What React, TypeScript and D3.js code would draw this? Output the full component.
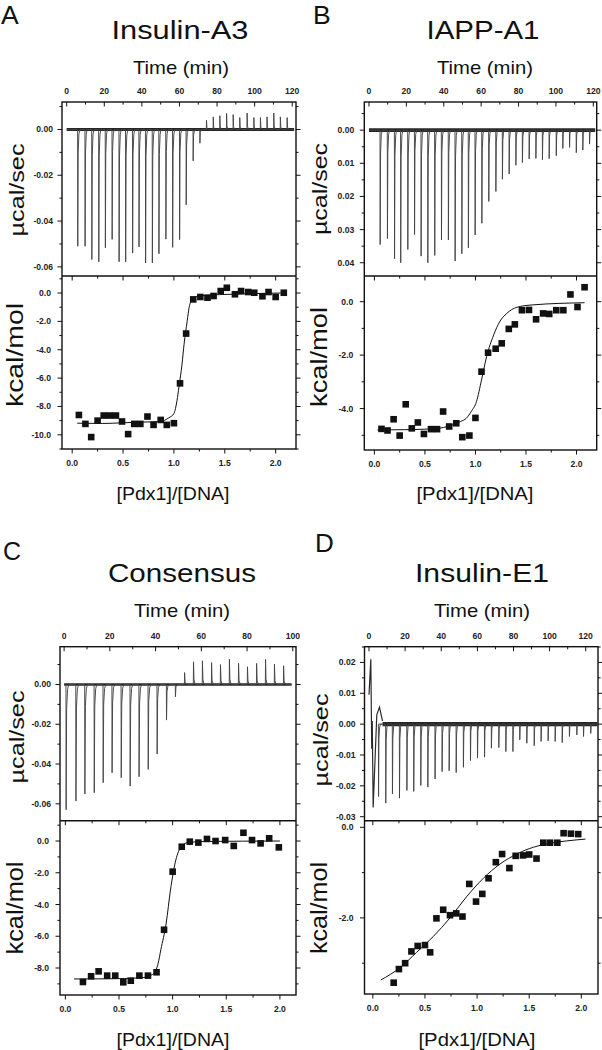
import React from "react";
import * as d3 from "d3";

type Pt = [number, number];

// ---------------- DATA ----------------
// Panel A : Insulin-A3
const injTimeA = [5.8, 9.7, 13.3, 17.0, 20.5, 24.1, 27.8, 31.3, 35.0, 38.4, 41.9, 45.5, 49.0, 52.7, 56.3, 60.0, 63.5, 67.2, 70.8, 74.3, 77.9, 81.4, 85.0, 88.5, 92.0, 95.9, 99.5, 103.0, 106.5, 110.1, 113.6, 117.2];
const injPeakA = [-0.051, -0.051, -0.0568, -0.0578, -0.0517, -0.048, -0.0578, -0.0578, -0.054, -0.0513, -0.0583, -0.0583, -0.0543, -0.0479, -0.0515, -0.0481, -0.0329, -0.0137, -0.006, 0.004, 0.0055, 0.006, 0.007, 0.0065, 0.0052, 0.0072, 0.0052, 0.0052, 0.0055, 0.0072, 0.0055, 0.0052];
const ratioA = [0.066, 0.13, 0.187, 0.25, 0.31, 0.37, 0.43, 0.49, 0.55, 0.61, 0.67, 0.74, 0.8, 0.87, 0.93, 1.0, 1.06, 1.12, 1.19, 1.26, 1.33, 1.39, 1.46, 1.52, 1.6, 1.66, 1.73, 1.79, 1.87, 1.93, 2.0, 2.08];
const heatA = [-8.6, -9.23, -10.16, -9.0, -8.64, -8.64, -8.64, -9.06, -9.95, -9.23, -9.23, -8.71, -9.3, -8.95, -9.3, -9.18, -6.37, -2.86, -0.45, -0.28, -0.33, -0.21, 0.14, 0.37, -0.09, 0.14, 0.07, 0.02, -0.23, 0.07, -0.28, 0.02];
const fitXA = [0.05, 0.3, 0.5, 0.7, 0.87, 0.95, 1.0, 1.03, 1.05, 1.08, 1.1, 1.13, 1.15, 1.18, 1.2, 1.3, 1.6, 2.05];
const fitYA = [-9.18, -9.2, -9.15, -9.1, -9.06, -8.8, -8.5, -7.6, -6.6, -5.0, -3.6, -2.0, -1.0, -0.45, -0.3, -0.17, -0.08, 0.0];

// Panel B : IAPP-A1 (raw signal axis is labelled positive downwards)
const injTimeB = [5.9, 9.8, 13.6, 16.9, 20.7, 24.3, 27.8, 31.4, 35.1, 38.7, 42.4, 46.0, 49.6, 53.1, 56.7, 60.3, 64.0, 67.8, 71.3, 74.9, 78.5, 82.0, 85.6, 89.2, 92.7, 96.3, 100.1, 103.6, 107.2, 110.8, 114.3, 117.9];
const injPeakB = [0.0345, 0.0327, 0.0388, 0.04, 0.036, 0.0315, 0.038, 0.04, 0.0378, 0.0331, 0.0331, 0.0395, 0.0373, 0.0355, 0.0316, 0.0281, 0.0215, 0.0185, 0.0148, 0.0132, 0.0106, 0.0098, 0.0087, 0.0085, 0.0089, 0.0086, 0.0077, 0.0055, 0.0052, 0.0068, 0.006, 0.0042];
const ratioB = [0.07, 0.13, 0.19, 0.25, 0.31, 0.37, 0.43, 0.49, 0.56, 0.62, 0.68, 0.74, 0.81, 0.87, 0.94, 1.0, 1.06, 1.125, 1.2, 1.26, 1.33, 1.39, 1.46, 1.53, 1.6, 1.67, 1.73, 1.8, 1.87, 1.94, 2.01, 2.08];
const heatB = [-4.76, -4.82, -4.4, -5.01, -3.84, -4.74, -4.52, -4.95, -4.77, -4.77, -4.11, -4.67, -4.55, -5.07, -5.01, -4.35, -2.62, -1.91, -1.76, -1.56, -1.02, -0.85, -0.32, -0.31, -0.66, -0.44, -0.46, -0.32, -0.32, 0.27, -0.2, 0.54];
const fitXB = [0.03, 0.3, 0.5, 0.65, 0.78, 0.85, 0.91, 0.96, 1.01, 1.06, 1.11, 1.18, 1.24, 1.31, 1.41, 1.57, 2.08];
const fitYB = [-4.8, -4.79, -4.77, -4.73, -4.6, -4.49, -4.36, -4.1, -3.74, -2.93, -2.06, -1.25, -0.75, -0.44, -0.21, -0.12, -0.04];

// Panel C : Consensus
const injTimeC = [0.8, 5.1, 9.0, 13.1, 17.0, 20.9, 24.9, 28.8, 32.7, 36.7, 40.6, 44.7, 48.6, 52.6, 56.5, 60.4, 64.4, 68.3, 72.2, 76.2, 80.1, 84.1, 88.0, 91.9, 95.9];
const injPeakC = [-0.063, -0.0586, -0.0551, -0.0544, -0.0494, -0.0444, -0.0469, -0.0511, -0.0464, -0.0427, -0.035, -0.0179, -0.0062, 0.006, 0.0114, 0.0119, 0.011, 0.01, 0.0127, 0.0106, 0.0089, 0.0106, 0.0126, 0.0102, 0.0094];
const ratioC = [0.164, 0.24, 0.31, 0.39, 0.465, 0.54, 0.61, 0.69, 0.77, 0.85, 0.92, 1.0, 1.085, 1.16, 1.24, 1.32, 1.4, 1.49, 1.57, 1.66, 1.74, 1.82, 1.9, 1.99];
const heatC = [-8.88, -8.52, -8.21, -8.48, -8.48, -8.9, -8.8, -8.48, -8.48, -8.27, -5.59, -1.93, -0.36, -0.04, -0.1, 0.13, 0.0, 0.06, -0.31, 0.52, 0.06, -0.15, 0.17, -0.4];
const fitXC = [0.08, 0.4, 0.7, 0.8, 0.84, 0.865, 0.89, 0.94, 0.98, 1.03, 1.08, 1.14, 1.3, 2.0];
const fitYC = [-8.69, -8.68, -8.62, -8.45, -8.2, -7.7, -6.85, -5.17, -3.08, -1.19, -0.36, -0.1, -0.03, 0.0];

// Panel D : Insulin-E1
const injTimeD = [5.2, 9.2, 12.9, 16.8, 20.9, 24.7, 28.6, 32.5, 36.5, 40.4, 44.3, 48.2, 52.2, 56.1, 60.0, 63.9, 67.7, 71.8, 75.7, 79.6, 83.4, 87.3, 91.4, 95.2, 99.1, 103.0, 106.9, 110.9, 115.0, 118.7, 122.7];
const injPeakD = [-0.0235, -0.0256, -0.0226, -0.024, -0.0215, -0.0218, -0.0199, -0.0204, -0.0178, -0.0154, -0.0151, -0.0157, -0.014, -0.0118, -0.011, -0.0107, -0.0078, -0.0076, -0.0089, -0.0089, -0.0051, -0.0062, -0.007, -0.0056, -0.0054, -0.0056, -0.006, -0.004, -0.0035, -0.004, -0.003];
const startTimeD = [0, 1.0, 1.5, 1.8, 2.3, 4.3, 5.8, 7.5];
const startSignalD = [0.0095, 0.021, -0.008, 0.001, -0.027, 0.003, 0.0055, 0.001];
const ratioD = [0.2, 0.25, 0.31, 0.37, 0.43, 0.5, 0.55, 0.61, 0.675, 0.74, 0.8, 0.86, 0.925, 0.99, 1.05, 1.11, 1.18, 1.24, 1.31, 1.37, 1.44, 1.5, 1.57, 1.635, 1.7, 1.77, 1.83, 1.9, 1.97];
const heatD = [-3.43, -3.13, -3.0, -2.74, -2.62, -2.6, -2.76, -2.01, -1.82, -1.94, -1.9, -1.97, -1.25, -1.64, -1.47, -1.125, -0.77, -0.59, -0.9, -0.63, -0.62, -0.6, -0.69, -0.34, -0.34, -0.34, -0.13, -0.14, -0.15];
const fitXD = [0.077, 0.26, 0.42, 0.58, 0.74, 0.9, 1.06, 1.22, 1.38, 1.54, 1.7, 1.86, 2.04];
const fitYD = [-3.37, -3.1, -2.76, -2.41, -2.0, -1.53, -1.125, -0.81, -0.59, -0.44, -0.35, -0.3, -0.26];

// ---------------- LAYOUT ----------------
const FONT = "'Liberation Sans', Arial, Helvetica, sans-serif";

interface TextSpec { x: number; y: number; size: number; len?: number }

interface PanelCfg {
  id: string;
  letter: string; letterPos: TextSpec;
  title: string; titlePos: TextSpec;
  timePos: TextSpec;
  ucalPos: TextSpec; kcalPos: TextSpec; ratioPos: TextSpec;
  x0: number; x1: number; y0: number; yMid: number; y1: number;
  tDomain: [number, number];
  sigDomain: [number, number]; // [value at bottom, value at top]
  sigMajor: number; sigMinor: number;
  tMajor: number; tMinor: number;
  rDomain: [number, number];
  hDomain: [number, number];
  hMajor: number; hMinor: number;
  injTime: number[]; injPeak: number[];
  tStart: number; tEnd: number; band: number;
  startT?: number[]; startV?: number[];
  ratio: number[]; heat: number[]; fitX: number[]; fitY: number[];
  sigGap: number;
}

const panels: PanelCfg[] = [
  {
    id: "A", letter: "A", letterPos: { x: 1, y: 24, size: 26.5 },
    title: "Insulin-A3", titlePos: { x: 180, y: 38.5, size: 25.5, len: 137 },
    timePos: { x: 181, y: 74, size: 18.5, len: 96 },
    ucalPos: { x: 24, y: 190, size: 20.5, len: 93 },
    kcalPos: { x: 23, y: 355, size: 24, len: 104 },
    ratioPos: { x: 173, y: 500, size: 18.6, len: 113 },
    x0: 62, x1: 296, y0: 102, yMid: 276, y1: 449,
    tDomain: [-2.5, 122], sigDomain: [-0.064, 0.012], sigMajor: 0.02, sigMinor: 0.01,
    tMajor: 20, tMinor: 10,
    rDomain: [-0.1, 2.2], hDomain: [-11, 1.2], hMajor: 2, hMinor: 1,
    injTime: injTimeA, injPeak: injPeakA, tStart: 0, tEnd: 121, band: 3,
    ratio: ratioA, heat: heatA, fitX: fitXA, fitY: fitYA, sigGap: 9,
  },
  {
    id: "B", letter: "B", letterPos: { x: 313, y: 24, size: 26.5 },
    title: "IAPP-A1", titlePos: { x: 483, y: 38.5, size: 25.5, len: 113 },
    timePos: { x: 485, y: 74, size: 18.5, len: 96 },
    ucalPos: { x: 327, y: 189, size: 20.5, len: 92 },
    kcalPos: { x: 327, y: 357, size: 24, len: 100 },
    ratioPos: { x: 475, y: 500, size: 18.6, len: 117 },
    x0: 364.3, x1: 596.7, y0: 102, yMid: 276, y1: 450,
    tDomain: [-2.5, 121.8], sigDomain: [0.044, -0.0085], sigMajor: 0.01, sigMinor: 0.005,
    tMajor: 20, tMinor: 10,
    rDomain: [-0.1, 2.2], hDomain: [-5.55, 0.96], hMajor: 2, hMinor: 1,
    injTime: injTimeB, injPeak: injPeakB, tStart: 0, tEnd: 121, band: 3.6,
    ratio: ratioB, heat: heatB, fitX: fitXB, fitY: fitYB, sigGap: 10,
  },
  {
    id: "C", letter: "C", letterPos: { x: 3, y: 560, size: 25 },
    title: "Consensus", titlePos: { x: 182, y: 581.7, size: 25.5, len: 148 },
    timePos: { x: 182, y: 617.3, size: 18.5, len: 96 },
    ucalPos: { x: 24, y: 737, size: 20.5, len: 93 },
    kcalPos: { x: 23, y: 908, size: 24, len: 93 },
    ratioPos: { x: 173, y: 1045.5, size: 18.6, len: 113 },
    x0: 60, x1: 296, y0: 646.7, yMid: 820.7, y1: 995,
    tDomain: [-1.8, 101.4], sigDomain: [-0.0685, 0.019], sigMajor: 0.02, sigMinor: 0.01,
    tMajor: 20, tMinor: 10,
    rDomain: [-0.05, 2.15], hDomain: [-9.7, 1.28], hMajor: 2, hMinor: 1,
    injTime: injTimeC, injPeak: injPeakC, tStart: 0, tEnd: 99.5, band: 2.6,
    ratio: ratioC, heat: heatC, fitX: fitXC, fitY: fitYC, sigGap: 9,
  },
  {
    id: "D", letter: "D", letterPos: { x: 315, y: 551.7, size: 26 },
    title: "Insulin-E1", titlePos: { x: 482, y: 581.7, size: 25.5, len: 134 },
    timePos: { x: 482, y: 617.3, size: 18.5, len: 96 },
    ucalPos: { x: 328, y: 740, size: 20.5, len: 93 },
    kcalPos: { x: 327, y: 908, size: 24, len: 92 },
    ratioPos: { x: 477, y: 1045.5, size: 18.6, len: 117 },
    x0: 364.5, x1: 598, y0: 646.7, yMid: 820.7, y1: 994,
    tDomain: [-2.5, 126.8], sigDomain: [-0.0313, 0.0251], sigMajor: 0.01, sigMinor: 0.005,
    tMajor: 20, tMinor: 10,
    rDomain: [-0.08, 2.16], hDomain: [-3.68, 0.146], hMajor: 2, hMinor: 1,
    injTime: injTimeD, injPeak: injPeakD, tStart: 7.5, tEnd: 126.5, band: 4.2,
    startT: startTimeD, startV: startSignalD,
    ratio: ratioD, heat: heatD, fitX: fitXD, fitY: fitYD, sigGap: 9,
  },
];

function stepValues(a: number, b: number, step: number): number[] {
  const lo = Math.min(a, b), hi = Math.max(a, b);
  const k0 = Math.ceil(lo / step - 1e-6), k1 = Math.floor(hi / step + 1e-6);
  const out: number[] = [];
  for (let k = k0; k <= k1; k++) out.push(+(k * step).toFixed(6));
  return out;
}
function isMult(v: number, step: number) {
  const r = v / step;
  return Math.abs(r - Math.round(r)) < 1e-6;
}
const fmt = (v: number, d: number) => (Math.abs(v) < 1e-9 ? 0 : v).toFixed(d);

const MAJ = 4.5, MIN = 2.6;
const TICK_FONT = 8.6;

function Label({ s, text, anchor = "middle", rotate = false }: { s: TextSpec; text: string; anchor?: string; rotate?: boolean }) {
  const extra: any = s.len ? { textLength: s.len, lengthAdjust: "spacingAndGlyphs" } : {};
  if (rotate) {
    return (
      <text transform={`translate(${s.x},${s.y}) rotate(-90)`} textAnchor={anchor as any} fontSize={s.size} fontFamily={FONT} fill="#111" {...extra}>
        {text}
      </text>
    );
  }
  return (
    <text x={s.x} y={s.y} textAnchor={anchor as any} fontSize={s.size} fontFamily={FONT} fill="#111" {...extra}>
      {text}
    </text>
  );
}

function Panel({ p }: { p: PanelCfg }) {
  const xT = d3.scaleLinear().domain(p.tDomain).range([p.x0, p.x1]);
  const yT = d3.scaleLinear().domain(p.sigDomain).range([p.yMid, p.y0]);
  const xR = d3.scaleLinear().domain(p.rDomain).range([p.x0, p.x1]);
  const yH = d3.scaleLinear().domain(p.hDomain).range([p.y1, p.yMid]);

  // raw ITC trace: baseline with a sharp spike at each injection
  const pts: Pt[] = [[p.tStart, 0]];
  p.injTime.forEach((t, i) => {
    const v = p.injPeak[i];
    pts.push([t, 0], [t + 0.08, v], [t + 0.3, v * 0.2], [t + 0.7, v * 0.04], [t + 1.2, 0]);
  });
  pts.push([p.tEnd, 0]);
  const line = d3.line<Pt>().x((d) => xT(d[0])).y((d) => yT(d[1]));
  const tracePath = line(pts) || "";
  const startPts: Pt[] = p.startT ? p.startT.map((t, i) => [t, p.startV![i]] as Pt) : [];
  const startPath = startPts.length ? line(startPts) || "" : "";

  const fitPts: Pt[] = p.fitX.map((x, i) => [x, p.fitY[i]]);
  const fitLine = d3.line<Pt>().x((d) => xR(d[0])).y((d) => yH(d[1])).curve(d3.curveMonotoneX);
  const fitPath = fitLine(fitPts) || "";

  // ticks
  const tAll = stepValues(p.tDomain[0], p.tDomain[1], p.tMinor);
  const sAll = stepValues(p.sigDomain[0], p.sigDomain[1], p.sigMinor);
  const rAll = stepValues(p.rDomain[0], p.rDomain[1], 0.25);
  const hAll = stepValues(p.hDomain[0], p.hDomain[1], p.hMinor);

  const ticks: JSX.Element[] = [];
  const labels: JSX.Element[] = [];
  let k = 0;
  tAll.forEach((v) => {
    const major = isMult(v, p.tMajor);
    const x = xT(v);
    ticks.push(<line key={`t${k++}`} x1={x} x2={x} y1={p.y0} y2={p.y0 + (major ? MAJ : MIN)} />);
    if (major) labels.push(<text key={`tl${k++}`} x={x} y={p.y0 - 8} textAnchor="middle">{fmt(v, 0)}</text>);
  });
  sAll.forEach((v) => {
    const major = isMult(v, p.sigMajor);
    const y = yT(v);
    const len = major ? MAJ : MIN;
    ticks.push(<line key={`s${k++}`} x1={p.x0 - len} x2={p.x0} y1={y} y2={y} />);
    ticks.push(<line key={`s${k++}`} x1={p.x1} x2={p.x1 + len} y1={y} y2={y} />);
    if (major) labels.push(<text key={`sl${k++}`} x={p.x0 - p.sigGap} y={y + 3} textAnchor="end">{fmt(v, 2)}</text>);
  });
  rAll.forEach((v) => {
    const major = isMult(v, 0.5);
    const x = xR(v);
    const len = major ? MAJ : MIN;
    ticks.push(<line key={`r${k++}`} x1={x} x2={x} y1={p.yMid} y2={p.yMid + len} />);
    ticks.push(<line key={`r${k++}`} x1={x} x2={x} y1={p.y1} y2={p.y1 + len} />);
    if (major) labels.push(<text key={`rl${k++}`} x={x} y={p.y1 + 17} textAnchor="middle">{fmt(v, 1)}</text>);
  });
  hAll.forEach((v) => {
    const major = isMult(v, p.hMajor);
    const y = yH(v);
    const len = major ? MAJ : MIN;
    ticks.push(<line key={`h${k++}`} x1={p.x0 - len} x2={p.x0} y1={y} y2={y} />);
    ticks.push(<line key={`h${k++}`} x1={p.x1} x2={p.x1 + len} y1={y} y2={y} />);
    if (major) labels.push(<text key={`hl${k++}`} x={p.x0 - 11} y={y + 3} textAnchor="end">{fmt(v, 1)}</text>);
  });

  const clipTop = `clipTop${p.id}`;
  const sq = 6.6;

  return (
    <g>
      <defs>
        <clipPath id={clipTop}>
          <rect x={p.x0} y={p.y0} width={p.x1 - p.x0} height={p.yMid - p.y0} />
        </clipPath>
      </defs>
      <Label s={p.letterPos} text={p.letter} anchor="start" />
      <Label s={p.titlePos} text={p.title} />
      <Label s={p.timePos} text="Time (min)" />
      <Label s={p.ucalPos} text="µcal/sec" rotate />
      <Label s={p.kcalPos} text="kcal/mol" rotate />
      <Label s={p.ratioPos} text="[Pdx1]/[DNA]" />

      <g clipPath={`url(#${clipTop})`}>
        <line x1={xT(p.tStart)} x2={xT(p.tEnd)} y1={yT(0)} y2={yT(0)} stroke="#262626" strokeWidth={p.band} />
        <path d={tracePath} fill="none" stroke="#444" strokeWidth={0.95} />
        {startPath && <path d={startPath} fill="none" stroke="#2a2a2a" strokeWidth={1.2} />}
      </g>

      <path d={fitPath} fill="none" stroke="#111" strokeWidth={1} />
      {p.ratio.map((r, i) => (
        <rect key={i} x={xR(r) - sq / 2} y={yH(p.heat[i]) - sq / 2} width={sq} height={sq} fill="#111" />
      ))}

      <g stroke="#111" strokeWidth={1}>{ticks}</g>
      <rect x={p.x0} y={p.y0} width={p.x1 - p.x0} height={p.y1 - p.y0} fill="none" stroke="#111" strokeWidth={1.4} />
      <line x1={p.x0} x2={p.x1} y1={p.yMid} y2={p.yMid} stroke="#111" strokeWidth={1.4} />
      <g fontFamily={FONT} fontSize={TICK_FONT} fontWeight="bold" fill="#222">{labels}</g>
    </g>
  );
}

export default function App() {
  return (
    <svg width={602} height={1050} viewBox="0 0 602 1050" style={{ position: "absolute", left: 0, top: 0, background: "#fff" }}>
      <rect x={0} y={0} width={602} height={1050} fill="#fff" />
      {panels.map((p) => (
        <Panel key={p.id} p={p} />
      ))}
    </svg>
  );
}
